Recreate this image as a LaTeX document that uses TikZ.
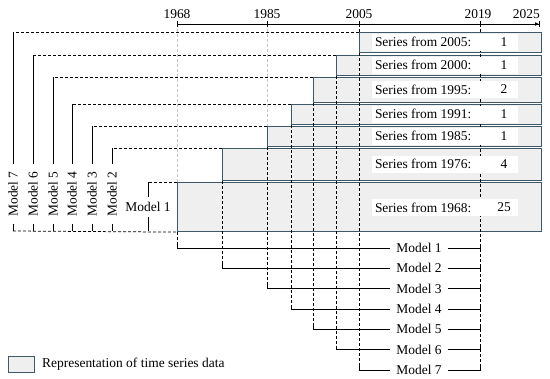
\documentclass[tikz,border=0pt]{standalone}
\usepackage{fontspec}
\setmainfont{Liberation Serif}
\usetikzlibrary{arrows.meta}
\definecolor{boxedge}{HTML}{3E5868}
\definecolor{boxfill}{HTML}{EFEFEF}
\definecolor{guide}{HTML}{C4C4C4}
\begin{document}
\begin{tikzpicture}[x=1bp,y=-1bp, font=\fontsize{13.5}{15}\selectfont,
 databox/.style={draw=boxedge, line width=1.1bp, fill=boxfill, inner sep=0pt, anchor=north west},
 dsh/.style={line width=0.75bp, dash pattern=on 3bp off 2bp},
 gdsh/.style={dsh, draw=guide},
 sld/.style={line width=1bp},
 whitebg/.style={fill=white, minimum width=146bp, minimum height=17bp, inner sep=0pt},
 txt/.style={inner sep=0pt},
 vlab/.style={rotate=90, inner xsep=7bp, inner ysep=2bp},
 mlab/.style={inner xsep=6bp, inner ysep=3bp},
]
\useasboundingbox (0,0) rectangle (550,378);

% data rows
\node[databox, minimum width=182bp, minimum height=20bp] (r7) at (359,32) {};
\node[databox, minimum width=205bp, minimum height=20bp] (r6) at (336,55) {};
\node[databox, minimum width=228bp, minimum height=25bp] (r5) at (313,77) {};
\node[databox, minimum width=250bp, minimum height=20bp] (r4) at (291,104) {};
\node[databox, minimum width=274bp, minimum height=20bp] (r3) at (267,126) {};
\node[databox, minimum width=319bp, minimum height=32bp] (r2) at (222,148) {};
\node[databox, minimum width=364bp, minimum height=49bp] (r1) at (177,182) {};

% axis coordinates
\coordinate (t1968) at (177,24);
\coordinate (t1985) at (267,24);
\coordinate (t2005) at (359,24);
\coordinate (t2019) at (480,24);
\coordinate (t2025) at (540,24);

% bottom bracket coordinates
\coordinate (s1) at (177,248);   \coordinate (e1) at (480,248);
\coordinate (s2) at (222,268.3); \coordinate (e2) at (480,268.3);
\coordinate (s3) at (267,288.7); \coordinate (e3) at (480,288.7);
\coordinate (s4) at (291,309);   \coordinate (e4) at (480,309);
\coordinate (s5) at (313,329.3); \coordinate (e5) at (480,329.3);
\coordinate (s6) at (336,349.7); \coordinate (e6) at (480,349.7);
\coordinate (s7) at (359,370);   \coordinate (e7) at (480,370);

% guide lines
\draw[gdsh] (t1968) -- (r1.north west);
\draw[gdsh] (t1985) -- (r3.north west);
\draw[dsh] (t2005) -- (r7.north west);
\draw[dsh] (t2019) -- (e7);

% dashed verticals from start of each series
\draw[dsh] (r1.south west) -- (s1);
\draw[dsh] (r2.south west) -- (s2);
\draw[dsh] (r3.south west) -- (s3);
\draw[dsh] (r4.south west) -- (s4);
\draw[dsh] (r5.south west) -- (s5);
\draw[dsh] (r6.south west) -- (s6);
\draw[dsh] (r7.south west) -- (s7);

% series labels
\node[whitebg] (w7) at (445,42) {};
\node[txt, anchor=west] (n7) at ([xshift=3bp]w7.west) {Series from 2005:};
\node[txt] (k7) at (504,42) {1};
\node[whitebg] (w6) at (445,65) {};
\node[txt, anchor=west] (n6) at ([xshift=3bp]w6.west) {Series from 2000:};
\node[txt] (k6) at (504,65) {1};
\node[whitebg] (w5) at (445,89.5) {};
\node[txt, anchor=west] (n5) at ([xshift=3bp]w5.west) {Series from 1995:};
\node[txt] (k5) at (504,89.5) {2};
\node[whitebg] (w4) at (445,114) {};
\node[txt, anchor=west] (n4) at ([xshift=3bp]w4.west) {Series from 1991:};
\node[txt] (k4) at (504,114) {1};
\node[whitebg] (w3) at (445,136) {};
\node[txt, anchor=west] (n3) at ([xshift=3bp]w3.west) {Series from 1985:};
\node[txt] (k3) at (504,136) {1};
\node[whitebg] (w2) at (445,164) {};
\node[txt, anchor=west] (n2) at ([xshift=3bp]w2.west) {Series from 1976:};
\node[txt] (k2) at (504,164) {4};
\node[whitebg] (w1) at (445,207.5) {};
\node[txt, anchor=west] (n1) at ([xshift=3bp]w1.west) {Series from 1968:};
\node[txt] (k1) at (504,207.5) {25};

% left model brackets
\coordinate (c7) at (13,32);   \coordinate (b7) at (13,231);
\coordinate (c6) at (33,55);   \coordinate (b6) at (33,231);
\coordinate (c5) at (53,77);   \coordinate (b5) at (53,231);
\coordinate (c4) at (72,104);  \coordinate (b4) at (72,231);
\coordinate (c3) at (92,126);  \coordinate (b3) at (92,231);
\coordinate (c2) at (112,148); \coordinate (b2) at (112,231);
\coordinate (c1) at (148,182); \coordinate (b1) at (148,231);

\node[vlab] (L7) at (13,194) {Model 7};
\node[vlab] (L6) at (33,194) {Model 6};
\node[vlab] (L5) at (53,194) {Model 5};
\node[vlab] (L4) at (72,194) {Model 4};
\node[vlab] (L3) at (92,194) {Model 3};
\node[vlab] (L2) at (112,194) {Model 2};
\node[inner xsep=2bp, inner ysep=5bp] (L1) at (148,207) {Model 1};

\draw[dsh] (r7.north west) -- (c7);
\draw[dsh] (r6.north west) -- (c6);
\draw[dsh] (r5.north west) -- (c5);
\draw[dsh] (r4.north west) -- (c4);
\draw[dsh] (r3.north west) -- (c3);
\draw[dsh] (r2.north west) -- (c2);
\draw[dsh] (r1.north west) -- (c1);
\draw[dsh] (b7) -- (r1.south west);

\draw[sld] (c7) -- (L7.east); \draw[sld] (L7.west) -- (b7);
\draw[sld] (c6) -- (L6.east); \draw[sld] (L6.west) -- (b6);
\draw[sld] (c5) -- (L5.east); \draw[sld] (L5.west) -- (b5);
\draw[sld] (c4) -- (L4.east); \draw[sld] (L4.west) -- (b4);
\draw[sld] (c3) -- (L3.east); \draw[sld] (L3.west) -- (b3);
\draw[sld] (c2) -- (L2.east); \draw[sld] (L2.west) -- (b2);
\draw[sld] (c1) -- (L1.north); \draw[sld] (L1.south) -- (b1);

% bottom model brackets
\node[mlab] (M1) at (419,248) {Model 1};
\node[mlab] (M2) at (419,268.3) {Model 2};
\node[mlab] (M3) at (419,288.7) {Model 3};
\node[mlab] (M4) at (419,309) {Model 4};
\node[mlab] (M5) at (419,329.3) {Model 5};
\node[mlab] (M6) at (419,349.7) {Model 6};
\node[mlab] (M7) at (419,370) {Model 7};
\foreach \i in {1,...,7}{
  \draw[sld] ([yshift=4bp]s\i) -- (s\i) -- (M\i.west);
  \draw[sld] (M\i.east) -- (e\i) -- ([yshift=4bp]e\i);
}

% time axis
\draw[sld, {Bar[width=6bp]}-{Latex[length=4bp,width=4bp]Bar[width=6bp]}] (t1968) -- (t2025);
\draw[sld] ([yshift=3bp]t1985) -- ([yshift=-3bp]t1985);
\draw[sld] ([yshift=3bp]t2005) -- ([yshift=-3bp]t2005);
\draw[sld] ([yshift=3bp]t2019) -- ([yshift=-3bp]t2019);
\node[txt, anchor=base] (y1968) at (177,18) {1968};
\node[txt, anchor=base] (y1985) at (267,18) {1985};
\node[txt, anchor=base] (y2005) at (359,18) {2005};
\node[txt, anchor=base] (y2019) at (478,18) {2019};
\node[txt, anchor=base east] (y2025) at (540,18) {2025};

% legend
\node[databox, minimum width=26bp, minimum height=16bp] (leg) at (8,356) {};
\node[txt, anchor=west] (legt) at (42,364) {Representation of time series data};
\end{tikzpicture}
\end{document}
